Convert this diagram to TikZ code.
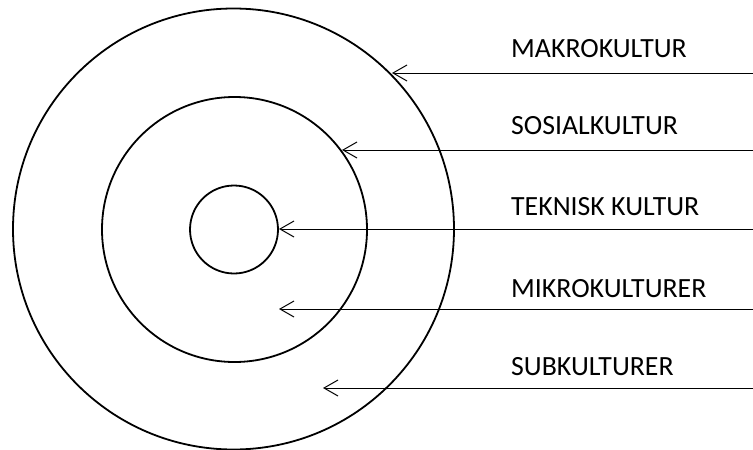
\documentclass[tikz,border=0pt]{standalone}
\usepackage{fontspec}
\setmainfont{Carlito}
\usetikzlibrary{arrows.meta}
\begin{document}
\begin{tikzpicture}[x=1pt,y=-1pt,
  ring/.style={circle,draw,line width=1.8pt,inner sep=0pt},
  lab/.style={anchor=base west,inner sep=0pt,font=\fontsize{27.8}{32}\selectfont},
  pointer/.style={line width=1pt,-{Straight Barb[length=14pt,width=16pt,line width=1pt]}}]
\useasboundingbox (0,0) rectangle (753,450);
\node[ring,minimum size=441pt] (outer) at (233.5,229) {};
\node[ring,minimum size=265pt] (middle) at (234.5,229.5) {};
\node[ring,minimum size=88pt] (inner) at (234,229.5) {};
\node[lab] (l1) at (511,57) {MAKROKULTUR};
\node[lab] (l2) at (511,134) {SOSIALKULTUR};
\node[lab] (l3) at (511,215) {TEKNISK KULTUR};
\node[lab] (l4) at (511,297) {MIKROKULTURER};
\node[lab] (l5) at (511,375) {SUBKULTURER};
\coordinate (s1) at (753,73);  \coordinate (t1) at (392,73);
\coordinate (s2) at (753,150); \coordinate (t2) at (342,150);
\coordinate (s3) at (753,229); \coordinate (t3) at (279,229);
\coordinate (s4) at (753,309); \coordinate (t4) at (279,309);
\coordinate (s5) at (753,388); \coordinate (t5) at (323,388);
\draw[pointer] (s1) -- (t1);
\draw[pointer] (s2) -- (t2);
\draw[pointer] (s3) -- (t3);
\draw[pointer] (s4) -- (t4);
\draw[pointer] (s5) -- (t5);
\end{tikzpicture}
\end{document}
